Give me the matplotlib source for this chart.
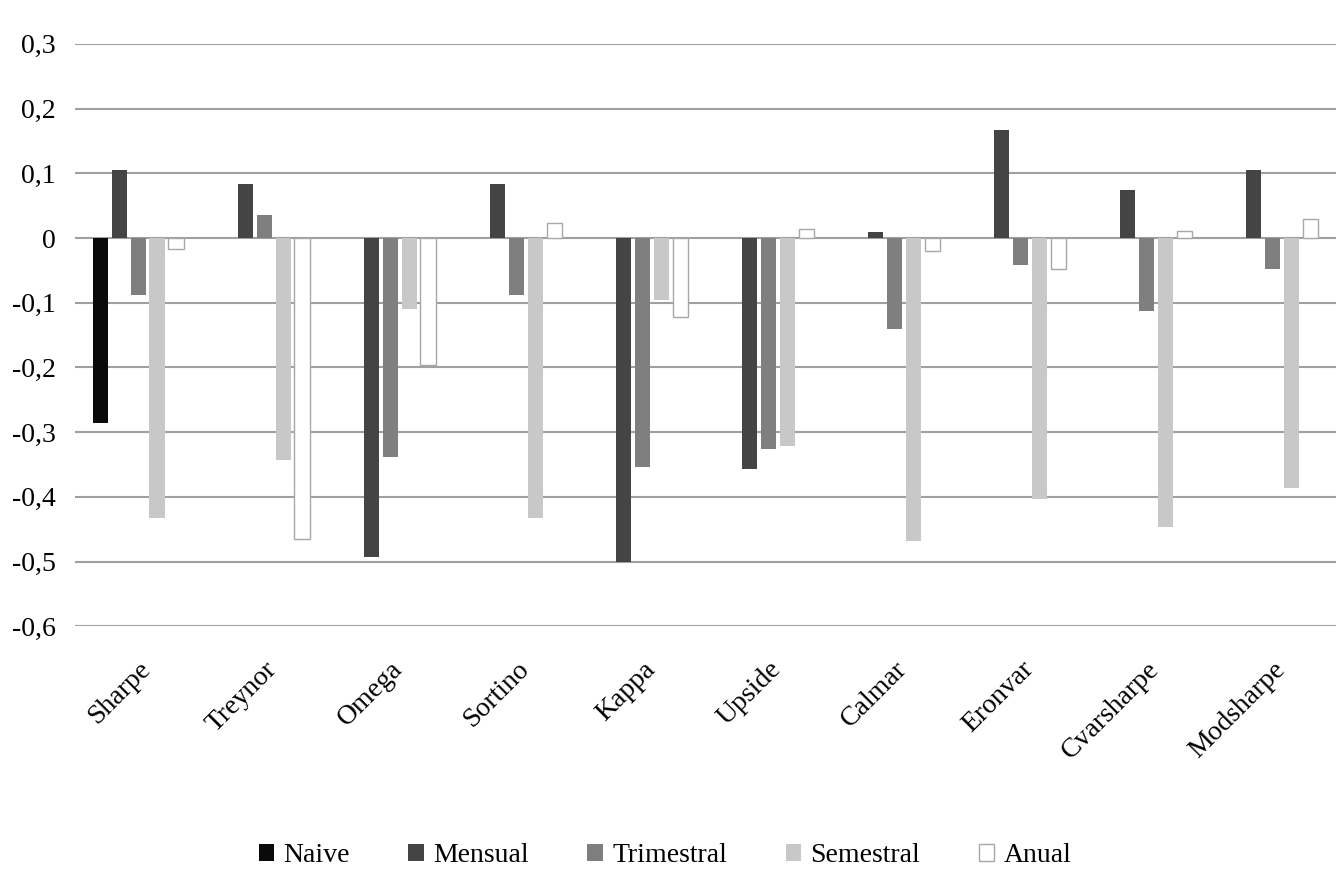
import numpy as np
import matplotlib.pyplot as plt
from matplotlib.ticker import FuncFormatter

categories = ["Sharpe", "Treynor", "Omega", "Sortino", "Kappa",
              "Upside", "Calmar", "Eronvar", "Cvarsharpe", "Modsharpe"]

naive = [-0.286, 0, 0, 0, 0, 0, 0, 0, 0, 0]
mensual = [0.105, 0.083, -0.493, 0.083, -0.500, -0.357, 0.009, 0.167, 0.074, 0.105]
trimestral = [-0.088, 0.035, -0.338, -0.088, -0.354, -0.326, -0.141, -0.042, -0.113, -0.048]
semestral = [-0.433, -0.343, -0.110, -0.433, -0.096, -0.321, -0.468, -0.404, -0.447, -0.386]
anual = [-0.017, -0.465, -0.196, 0.023, -0.122, 0.014, -0.020, -0.048, 0.011, 0.029]

series_names = ["Naive", "Mensual", "Trimestral", "Semestral", "Anual"]
series = [naive, mensual, trimestral, semestral, anual]
colors = ["#0a0a0a", "#444444", "#7f7f7f", "#c8c8c8", "#ffffff"]

plt.rcParams["font.family"] = ["Liberation Serif", "DejaVu Serif"]

fig = plt.figure(figsize=(13.41, 8.96), dpi=100)
ax = fig.add_axes([0.056, 0.301, 0.940, 0.650])

x = np.arange(len(categories))
pitch = 0.15
width = 0.12
for i, (name, vals) in enumerate(zip(series_names, series)):
    if name == "Anual":
        ax.bar(x + (i - 2) * pitch, vals, width, color=colors[i],
               edgecolor="#a8a8a8", linewidth=1, label=name, zorder=3)
    else:
        ax.bar(x + (i - 2) * pitch, vals, width, color=colors[i],
               linewidth=0, label=name, zorder=3)

ax.set_xlim(-0.5, len(categories) - 0.5)
ax.set_ylim(-0.6, 0.3)
ax.set_yticks(np.arange(-0.6, 0.31, 0.1))
ax.yaxis.set_major_formatter(FuncFormatter(
    lambda v, p: "0" if abs(v) < 1e-9 else f"{v:.1f}".replace(".", ",")))
ax.grid(axis="y", color="#a0a0a0", linewidth=1.5, zorder=0)
for s in ax.spines.values():
    s.set_visible(False)
ax.tick_params(axis="both", length=0, labelsize=20)
ax.tick_params(axis="y", pad=14)

ax.set_xticks(x)
ax.set_xticklabels(categories, rotation=45, ha="right", rotation_mode="anchor",
                   fontsize=20)
ax.tick_params(axis="x", pad=22)

leg = ax.legend(loc="upper center", bbox_to_anchor=(0.468, -0.33), ncol=5,
                frameon=False, fontsize=20, handlelength=0.55, handleheight=0.55,
                handletextpad=0.35, columnspacing=2.1)
for h in leg.legend_handles:
    if h.get_facecolor()[0] > 0.99:
        h.set_edgecolor("#a8a8a8")
        h.set_linewidth(1)

fig.savefig("out.png", dpi=100)
